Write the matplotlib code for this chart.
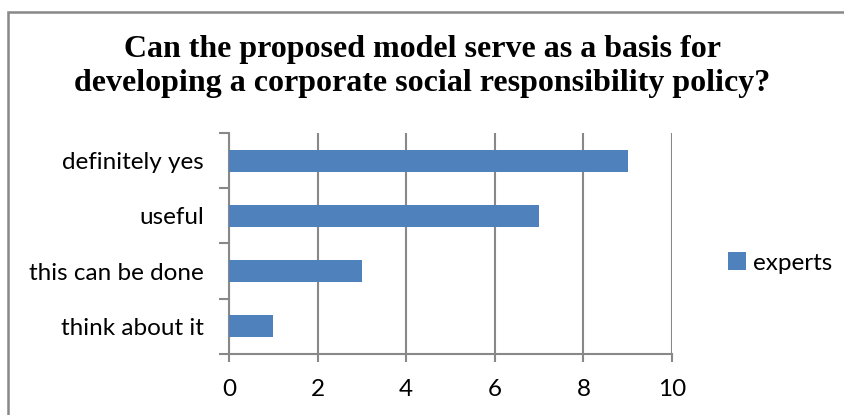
import matplotlib.pyplot as plt
from matplotlib.patches import Rectangle
from matplotlib.ticker import FixedLocator, NullFormatter

categories = ["think about it", "this can be done", "useful", "definitely yes"]
experts = [1, 3, 7, 9]
x_ticks = [0, 2, 4, 6, 8, 10]

bar_color = "#4F81BD"
grid_color = "#888888"
label_font = "Lato"

fig = plt.figure(figsize=(8.45, 4.15), dpi=100)
W, H = 845, 415

# outer chart frame, runs off the right and bottom edges
fig.patches.append(Rectangle((8 / W, -0.1), 1.2, 1 - 12.5 / H + 0.1,
                             transform=fig.transFigure, fill=False,
                             edgecolor=grid_color, linewidth=1.8))

ax = fig.add_axes([229 / W, 1 - 354 / H, (672 - 229) / W, (354 - 133) / H])

y = range(len(categories))
ax.barh(y, experts, height=0.4, color=bar_color, label="experts", zorder=3)

ax.set_xlim(0, 10)
ax.set_ylim(-0.5, len(categories) - 0.5)
ax.set_xticks(x_ticks)
ax.xaxis.grid(True, color=grid_color, linewidth=1.5)
ax.set_axisbelow(True)

# category labels in the middle, tick marks on the boundaries
ax.set_yticks(list(y))
ax.set_yticklabels(categories)
ax.yaxis.set_minor_locator(FixedLocator([i - 0.5 for i in range(len(categories) + 1)]))
ax.yaxis.set_minor_formatter(NullFormatter())
ax.tick_params(axis="y", which="major", length=0, pad=18)
ax.tick_params(axis="y", which="minor", length=7, width=1.5, color=grid_color)
ax.tick_params(axis="x", length=6, width=1.5, color=grid_color, pad=12)

for lab in ax.get_yticklabels() + ax.get_xticklabels():
    lab.set_fontfamily(label_font)
    lab.set_fontsize(17.5)
    lab.set_color("#000000")

for side in ["top", "right"]:
    ax.spines[side].set_visible(False)
for side in ["left", "bottom"]:
    ax.spines[side].set_color(grid_color)
    ax.spines[side].set_linewidth(1.5)

fig.text(0.5, 1 - 50 / H, "Can the proposed model serve as a basis for",
         ha="center", va="center", fontsize=23, fontweight="bold",
         family="Liberation Serif")
fig.text(0.5, 1 - 83 / H, "developing a corporate social responsibility policy?",
         ha="center", va="center", fontsize=23, fontweight="bold",
         family="Liberation Serif")

fig.legend(loc="center left", bbox_to_anchor=(706 / W, 1 - 263 / H),
           frameon=False, handlelength=0.75, handleheight=0.75,
           handletextpad=0.3, prop={"family": label_font, "size": 17.5})

fig.savefig("out.png", dpi=100)
